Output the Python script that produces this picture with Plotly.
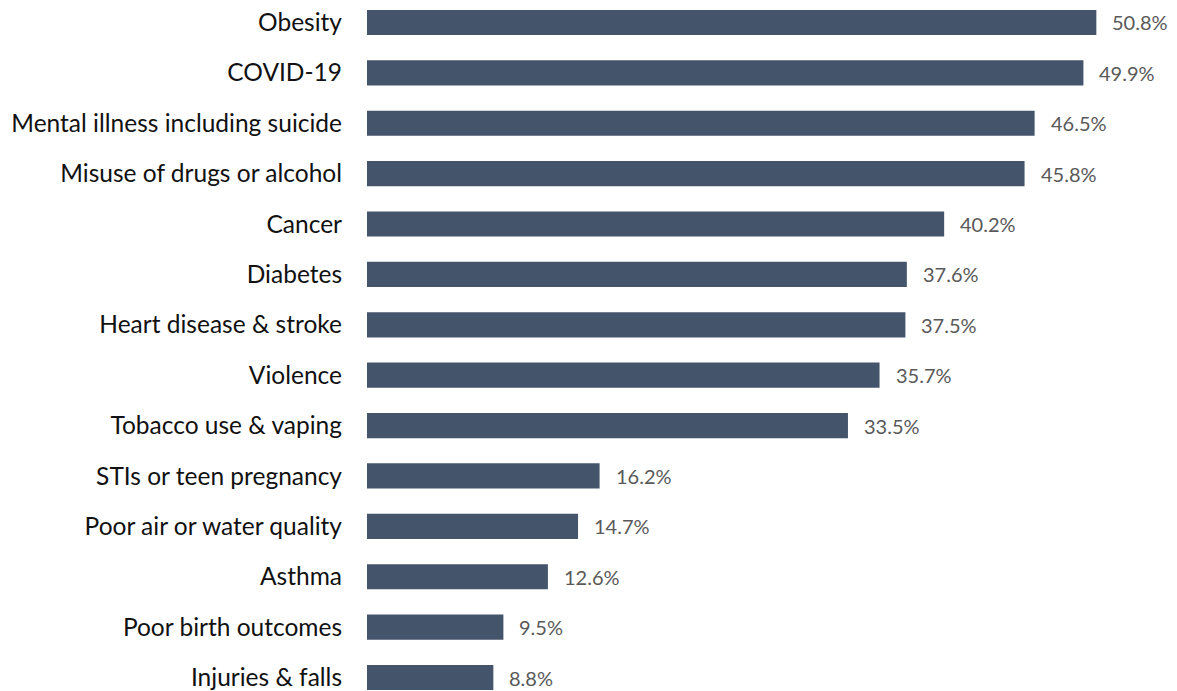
import plotly.graph_objects as go

categories = ["Obesity", "COVID-19", "Mental illness including suicide",
              "Misuse of drugs or alcohol", "Cancer", "Diabetes",
              "Heart disease & stroke", "Violence", "Tobacco use & vaping",
              "STIs or teen pregnancy", "Poor air or water quality", "Asthma",
              "Poor birth outcomes", "Injuries & falls"]
values = [50.8, 49.9, 46.5, 45.8, 40.2, 37.6, 37.5, 35.7, 33.5, 16.2, 14.7, 12.6, 9.5, 8.8]

fig = go.Figure()
fig.add_trace(go.Bar(
    y=categories, x=values, orientation="h",
    marker=dict(color="#44546A", line=dict(width=0)),
    hoverinfo="skip",
))

for c, v in zip(categories, values):
    fig.add_annotation(x=v, y=c, text=f"{v:.1f}%", showarrow=False,
                       xanchor="left", yanchor="middle", xshift=14,
                       font=dict(family="Lato", size=20, color="#595959"))

fig.update_layout(
    width=1177, height=691,
    margin=dict(l=367, r=6, t=0, b=0),
    paper_bgcolor="white", plot_bgcolor="white",
    bargap=0.5,
    showlegend=False,
    xaxis=dict(range=[0, 56], visible=False, showgrid=False, zeroline=False),
    yaxis=dict(type="category", categoryorder="array", categoryarray=categories,
               range=[13.268, -0.446], showgrid=False, zeroline=False,
               ticks="", ticklabelstandoff=24,
               tickfont=dict(family="Lato", size=24.5, color="#111111")),
)

fig.write_html("out.html", config={"displayModeBar": False},
               post_script="document.body.style.margin='0';")
